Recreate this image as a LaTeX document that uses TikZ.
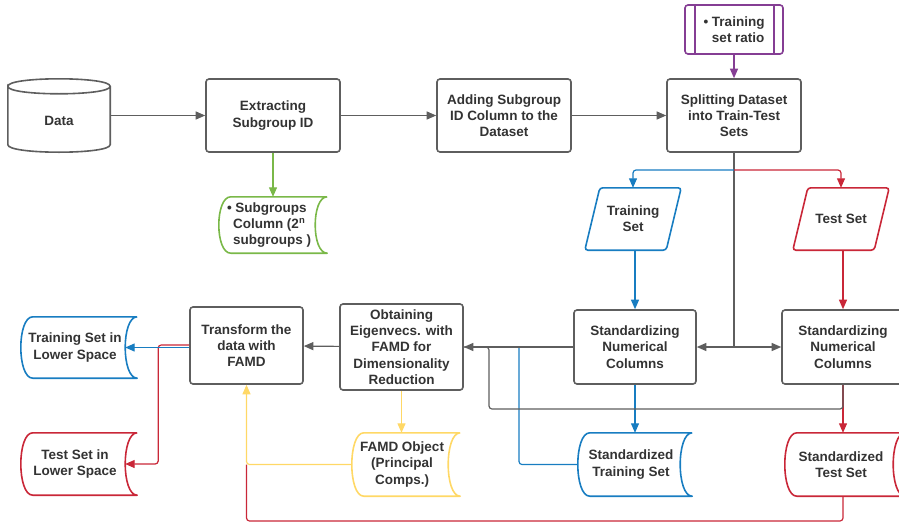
\documentclass[tikz,border=0pt]{standalone}
\usepackage{fontspec}
\setmainfont{Liberation Sans}
\usepackage{xcolor}
\definecolor{boxgray}{RGB}{94,94,94}
\definecolor{txtgray}{RGB}{51,51,51}
\definecolor{lcblue}{RGB}{24,125,193}
\definecolor{lcred}{RGB}{201,39,56}
\definecolor{lcgreen}{RGB}{122,184,72}
\definecolor{lcpurple}{RGB}{133,62,148}
\definecolor{lcyellow}{RGB}{255,216,102}
\usetikzlibrary{arrows.meta, calc}

\newcommand{\boxfont}{\fontsize{13.5}{16.2}\selectfont\bfseries}
% outline of a stored-data shape round a plain node (right side 8pt past the node)
\newcommand{\storedoutline}[2]{%
  \draw[#2, line width=1.6pt, line join=round] ($(#1.north east)+(8,0)$) -- ($(#1.north west)+(12,0)$)
    .. controls ($(#1.north west)+(-4,0)$) and ($(#1.south west)+(-4,0)$) .. ($(#1.south west)+(12,0)$)
    -- ($(#1.south east)+(8,0)$)
    .. controls ($(#1.south east)+(-8,0)$) and ($(#1.north east)+(-8,0)$) .. ($(#1.north east)+(8,0)$);}
% outline of a slanted data shape round a plain node
\newcommand{\slantoutline}[2]{%
  \draw[#2, line width=1.6pt, rounded corners=3pt] ($(#1.north west)+(15,0)$) -- (#1.north east)
    -- ($(#1.south east)+(-15,0)$) -- (#1.south west) -- cycle;}

\begin{document}
\begin{tikzpicture}[x=1pt, y=-1pt,
  box/.style={draw=boxgray, line width=1.6pt, rounded corners=3pt, fill=white,
              align=center, text=txtgray, font=\boxfont, inner sep=2pt},
  plain/.style={align=center, text=txtgray, font=\boxfont, inner sep=0pt},
  link/.style={line width=1.2pt, rounded corners=3pt},
  conn/.style={link, -{Triangle[length=9.5pt,width=8pt]}}]

\useasboundingbox (0,0) rectangle (899,525);

% === top row ===
\node[plain, minimum width=102pt, minimum height=73pt] (data) at (59,115.5) {\raisebox{-10pt}[0pt][0pt]{Data}};
\draw[boxgray, line width=1.6pt]
  ($(data.north west)+(0,7.5)$) .. controls ($(data.north west)+(0,-2.5)$) and ($(data.north east)+(0,-2.5)$) .. ($(data.north east)+(0,7.5)$)
  .. controls ($(data.north east)+(0,17.5)$) and ($(data.north west)+(0,17.5)$) .. ($(data.north west)+(0,7.5)$)
  -- ($(data.south west)+(0,-7.5)$)
  .. controls ($(data.south west)+(0,2.5)$) and ($(data.south east)+(0,2.5)$) .. ($(data.south east)+(0,-7.5)$)
  -- ($(data.north east)+(0,7.5)$);

\node[box, minimum width=134pt, minimum height=73pt] (extract) at (273,115.5) {Extracting\\Subgroup ID};
\node[box, minimum width=134pt, minimum height=73pt] (addcol) at (504,115.5) {Adding Subgroup\\ID Column to the\\Dataset};
\node[box, minimum width=134pt, minimum height=73pt] (split) at (734,115.5) {Splitting Dataset\\into Train-Test\\Sets};

\node[box, draw=lcpurple, align=left, minimum width=98pt, minimum height=49pt] (ratio) at (734,29.5)
     {\textbullet~Training\\\phantom{\textbullet~}set ratio};
\draw[lcpurple, line width=1.6pt] ($(ratio.north west)+(11,0)$) -- ($(ratio.south west)+(11,0)$);
\draw[lcpurple, line width=1.6pt] ($(ratio.north east)+(-10,0)$) -- ($(ratio.south east)+(-10,0)$);

\node[plain, align=left, minimum width=100pt, minimum height=56pt] (subcol) at (269,225)
     {\textbullet~Subgroups\\\hspace*{6pt}Column (2\textsuperscript{n}\\\hspace*{6pt}subgroups )};
\storedoutline{subcol}{lcgreen}

% === train / test split ===
\node[plain, minimum width=96pt, minimum height=62pt] (trainset) at (633,219) {Training\\Set};
\slantoutline{trainset}{lcblue}
\node[plain, minimum width=96pt, minimum height=62pt] (testset) at (841,219) {Test Set};
\slantoutline{testset}{lcred}

\node[box, minimum width=122pt, minimum height=74pt] (std1) at (635,347) {Standardizing\\Numerical\\Columns};
\node[box, minimum width=122pt, minimum height=74pt] (std2) at (843,347) {Standardizing\\Numerical\\Columns};

\node[plain, minimum width=106pt, minimum height=63pt] (stdtrain) at (631,464.5) {Standardized\\Training Set};
\storedoutline{stdtrain}{lcblue}
\node[plain, minimum width=112pt, minimum height=63pt] (stdtest) at (841,464.5) {Standardized\\Test Set};
\storedoutline{stdtest}{lcred}

% === FAMD part ===
\node[box, minimum width=123pt, minimum height=86pt] (obtain) at (401.5,347)
     {Obtaining\\Eigenvecs. with\\FAMD for\\Dimensionality\\Reduction};
\node[box, minimum width=113pt, minimum height=77pt] (transform) at (246.5,345.5) {Transform the\\data with\\FAMD};

\node[plain, minimum width=100pt, minimum height=63pt] (famdobj) at (402,464.5) {FAMD Object\\(Principal\\Comps.)};
\storedoutline{famdobj}{lcyellow}

\node[plain, minimum width=108pt, minimum height=61pt] (tsls) at (75,347.5) {Training Set in\\Lower Space};
\storedoutline{tsls}{lcblue}
\node[plain, minimum width=108pt, minimum height=62pt] (testls) at (75,464) {Test Set in\\Lower Space};
\storedoutline{testls}{lcred}

% === connectors ===
\coordinate (fork) at (734,170);
\coordinate (mid) at (split.south |- std1.east);
\coordinate (grayturn) at (489,409);
\coordinate (bluejoin) at (519,347);
\coordinate (redbottom) at ($(transform.south |- 0,521)$);

\draw[conn, boxgray] (data) -- (extract);
\draw[conn, boxgray] (extract) -- (addcol);
\draw[conn, boxgray] (addcol) -- (split);
\draw[conn, lcpurple] (ratio) -- (split);
\draw[conn, lcgreen] (extract.south) -- (extract.south |- subcol.north);

\draw[link, boxgray] (split.south) -- (mid);
\draw[conn, lcblue] (fork) -| (trainset.north);
\draw[conn, lcred] (fork) -| (testset.north);
\draw[conn, boxgray] (mid) -- (std1.east);
\draw[conn, boxgray] (mid) -- (std2.west);
\draw[conn, lcblue] (trainset.south -| std1.north) -- (std1.north);
\draw[conn, lcred] (testset.south -| std2.north) -- (std2.north);

\draw[conn, lcblue] (std1.south) -- (std1.south |- stdtrain.north);
\draw[conn, lcred] (std2.south) -- (std2.south |- stdtest.north);
\draw[link, lcblue] (stdtrain.west) -| (bluejoin);
\draw[link, boxgray] (std2.south) |- (grayturn) |- (obtain.east);
\draw[conn, boxgray] (std1) -- (obtain);

\draw[conn, lcyellow] (obtain.south) -- (obtain.south |- famdobj.north);
\draw[link, lcred] (std2.south |- stdtest.south) |- (redbottom) -- (transform.south |- famdobj.west);
\draw[conn, lcyellow] (famdobj.west) -| (transform.south);

\draw[conn, boxgray] (obtain) -- (transform);
\draw[conn, lcred] ($(transform.west)+(0,-0.5)$) -| ($(testls.east)+(29,0)$) -- ($(testls.east)+(-4,0)$);
\draw[conn, lcblue] (transform.west |- tsls.east) -- ($(tsls.east)+(-4,0)$);

\end{tikzpicture}
\end{document}
